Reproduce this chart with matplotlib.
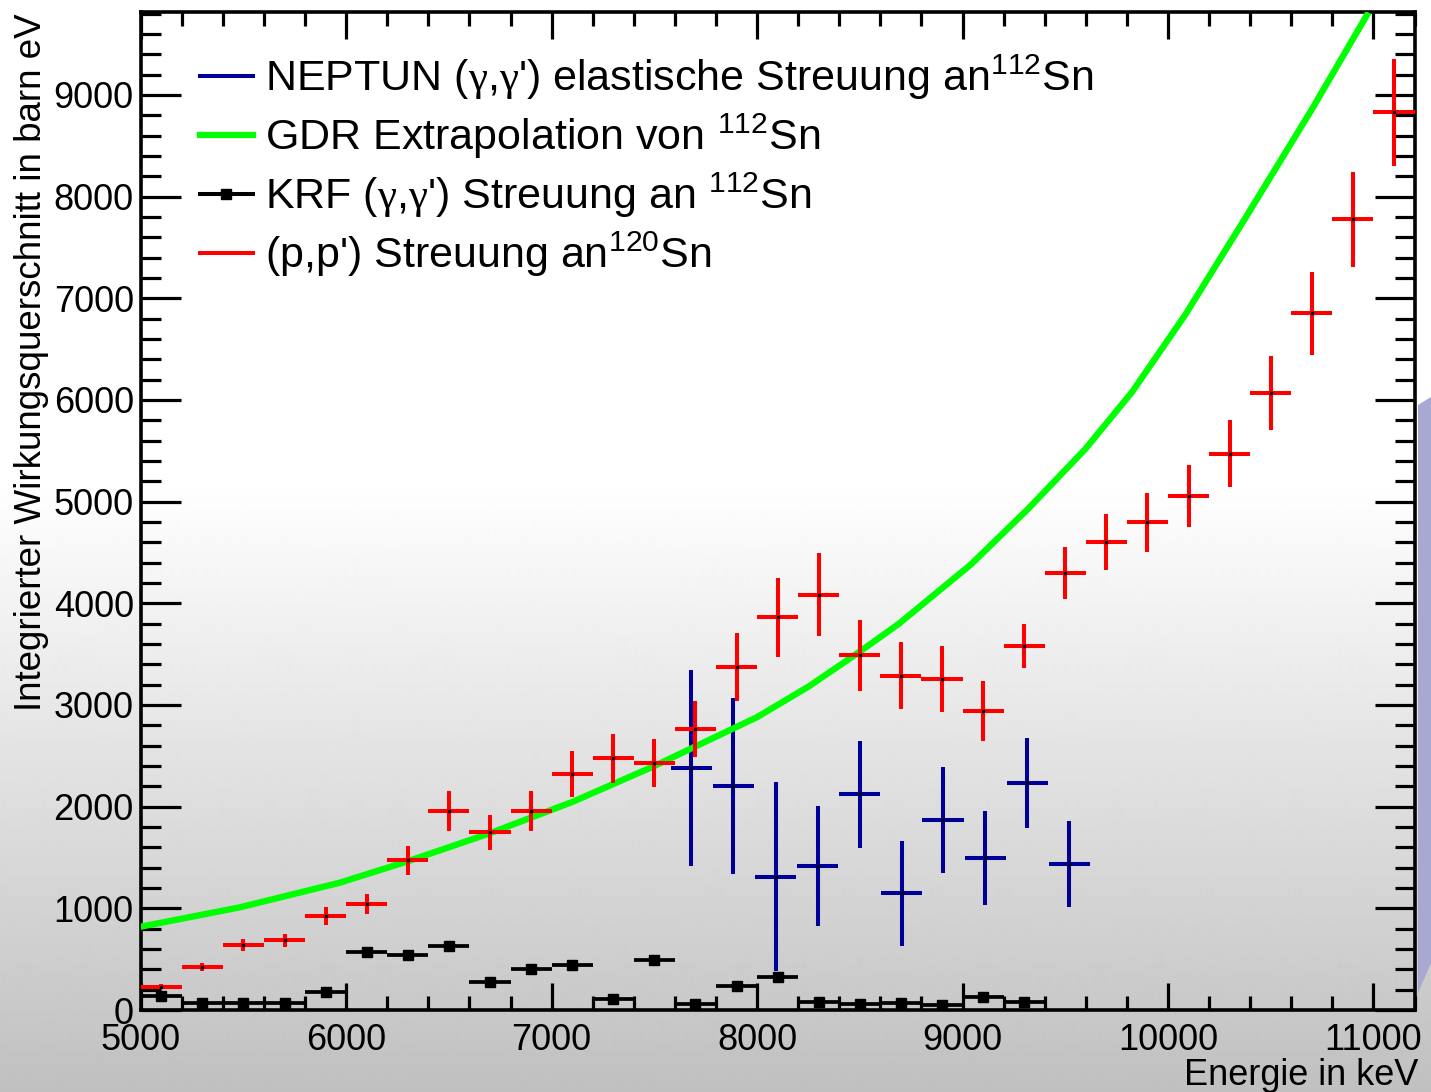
import matplotlib
matplotlib.use("Agg")
import matplotlib.pyplot as plt
import numpy as np
from matplotlib.lines import Line2D
from matplotlib.patches import Polygon
from matplotlib.ticker import MultipleLocator

plt.rcParams['font.family'] = ['Liberation Sans', 'DejaVu Sans']
plt.rcParams['mathtext.fontset'] = 'custom'
plt.rcParams['mathtext.rm'] = 'Liberation Sans'
plt.rcParams['mathtext.it'] = 'Liberation Sans'
plt.rcParams['mathtext.bf'] = 'Liberation Sans'
plt.rcParams['mathtext.sf'] = 'Liberation Serif'
plt.rcParams['mathtext.default'] = 'regular'

# ---------------- data ----------------
# (p,p') Streuung an 120Sn
pp_e = [5100, 5300, 5500, 5700, 5900, 6100, 6300, 6500, 6700, 6900, 7100, 7300,
        7500, 7700, 7900, 8100, 8300, 8500, 8700, 8900, 9100, 9300, 9500, 9700,
        9900, 10100, 10300, 10500, 10700, 10900, 11100]
pp_v = [229, 420, 639, 685, 924, 1042, 1472, 1960, 1747, 1960, 2321, 2475,
        2429, 2766, 3373, 3861, 4084, 3488, 3288, 3251, 2943, 3582, 4300, 4605,
        4795, 5054, 5470, 6070, 6850, 7778, 8827]
pp_err = [25, 40, 56, 62, 90, 102, 144, 195, 174, 195, 231, 243,
          239, 274, 336, 385, 409, 346, 328, 325, 293, 214, 258, 275,
          287, 302, 328, 364, 410, 467, 524]

# KRF (gamma,gamma') Streuung an 112Sn
krf_e = [5100, 5300, 5500, 5700, 5900, 6100, 6300, 6500, 6700, 6900, 7100,
         7300, 7500, 7700, 7900, 8100, 8300, 8500, 8700, 8900, 9100, 9300]
krf_v = [141, 66, 66, 66, 180, 570, 541, 633, 275, 406, 442,
         105, 495, 59, 236, 321, 79, 59, 66, 53, 131, 75]

# NEPTUN (gamma,gamma') elastische Streuung an 112Sn
nep_e = [7680, 7885, 8090, 8295, 8500, 8705, 8905, 9110, 9315, 9520]
nep_v = [2376, 2200, 1311, 1416, 2121, 1147, 1868, 1495, 2232, 1436]
nep_err = [964, 864, 928, 593, 524, 517, 518, 467, 446, 420]

# GDR Extrapolation von 112Sn
gdr_e = [5000, 5483, 5969, 6293, 6698, 7103, 7492, 8000, 8250, 8497, 8691,
         9040, 9320, 9599, 9826, 10085, 10377, 10701, 10976]
gdr_v = [819, 1010, 1252, 1458, 1737, 2048, 2392, 2880, 3180, 3520, 3800,
         4380, 4930, 5520, 6080, 6840, 7790, 8860, 9811]

bin_half = 100

x_ticks = [5000, 6000, 7000, 8000, 9000, 10000, 11000]
y_ticks = [0, 1000, 2000, 3000, 4000, 5000, 6000, 7000, 8000, 9000]

g = r"$\mathsf{\gamma}$"
labels = ["NEPTUN (" + g + "," + g + "') elastische Streuung an$^{112}$Sn",
          "GDR Extrapolation von $^{112}$Sn",
          "KRF (" + g + "," + g + "') Streuung an $^{112}$Sn",
          "(p,p') Streuung an$^{120}$Sn"]

c_blue = '#000099'
c_green = '#00ff00'
c_red = '#ff0000'
c_black = '#000000'

# ---------------- figure ----------------
W, H = 1431, 1092
fig = plt.figure(figsize=(W / 100, H / 100), dpi=100)

# background gradient (white top, grey bottom)
bg = fig.add_axes([0, 0, 1, 1], zorder=-10)
rows = np.arange(H)
shade = np.where(rows < 480, 1.0, 1.0 - (rows - 480) / (H - 480) * (63 / 255))
img = np.repeat(shade[:, None], 4, axis=1)
bg.imshow(img, cmap='gray', vmin=0, vmax=1, aspect='auto',
          extent=[0, 1, 0, 1], origin='upper', interpolation='bilinear')
bg.add_patch(Polygon([(1418 / W, 1 - 405 / H), (1.0, 1 - 397 / H),
                      (1.0, 1 - 963 / H), (1418 / W, 1 - 993 / H)],
                     closed=True, facecolor='#a7a9d3', edgecolor='none',
                     transform=bg.transAxes))
bg.set_xlim(0, 1)
bg.set_ylim(0, 1)
bg.axis('off')

ax = fig.add_axes([140.7 / W, (H - 1010) / H, (1414.5 - 140.7) / W,
                   (1010 - 11.5) / H])
ax.patch.set_alpha(0)

ax.errorbar(nep_e, nep_v, xerr=bin_half, yerr=nep_err, fmt='s', ms=1.5,
            mfc='black', mec='black', ecolor=c_blue, elinewidth=2.9,
            capsize=0, zorder=2)
ax.plot(gdr_e, gdr_v, color=c_green, lw=4.6, zorder=3,
        solid_capstyle='butt', solid_joinstyle='round')
ax.errorbar(krf_e, krf_v, xerr=bin_half, fmt='s', ms=7.5, mfc='black',
            mec='black', ecolor=c_black, elinewidth=2.7, capsize=0, zorder=3)
ax.errorbar(pp_e, pp_v, xerr=bin_half, yerr=pp_err, fmt='s', ms=1.5,
            mfc='black', mec='black', ecolor=c_red, elinewidth=2.9,
            capsize=0, zorder=4)

ax.set_xlim(5000, 11200)
ax.set_ylim(0, 9820)
ax.set_xticks(x_ticks)
ax.set_yticks(y_ticks)
ax.set_xticklabels([str(t) for t in x_ticks])
ax.set_yticklabels([str(t) for t in y_ticks])
ax.xaxis.set_minor_locator(MultipleLocator(200))
ax.yaxis.set_minor_locator(MultipleLocator(200))

for s in ax.spines.values():
    s.set_linewidth(2.6)

ax.tick_params(which='both', direction='in', top=True, right=True,
               width=2.3, labelsize=26, colors='black')
ax.tick_params(axis='x', which='major', length=19.5, pad=9)
ax.tick_params(axis='x', which='minor', length=10)
ax.tick_params(axis='y', which='major', length=29, pad=5)
ax.tick_params(axis='y', which='minor', length=14.5)

handles = [Line2D([], [], color=c_blue, lw=2.9),
           Line2D([], [], color=c_green, lw=4.5),
           Line2D([], [], color=c_black, lw=2.9, marker='s', ms=7),
           Line2D([], [], color=c_red, lw=2.9)]
ax.legend(handles, labels, loc='upper left',
          bbox_to_anchor=((200 - 140.7) / 1273.8, (1010 - 53) / 998.5),
          frameon=False, fontsize=31, handlelength=1.22, handletextpad=0.28,
          labelspacing=0.22, borderpad=0, borderaxespad=0)

fig.text(1418 / W, 7 / H, "Energie in keV", ha='right', va='baseline',
         fontsize=26)
fig.text(32 / W, 1 - 13 / H, "Integrierter Wirkungsquerschnitt in barn eV",
         rotation=90, ha='center', va='top', fontsize=26.5)

fig.savefig("out.png", dpi=100)
